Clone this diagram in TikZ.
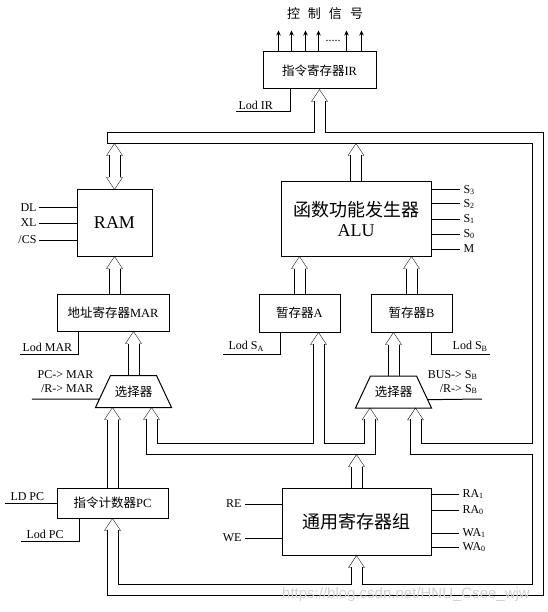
\documentclass[tikz,border=0pt]{standalone}
\usepackage{fontspec}
\setmainfont{Liberation Serif}
\setsansfont{Liberation Sans}
\newfontfamily\cjk{Noto Sans CJK SC}
\usetikzlibrary{positioning}
\usetikzlibrary{calc}
\usetikzlibrary{arrows.meta}
\pgfdeclarelayer{busbg}
\pgfsetlayers{busbg,main}

\tikzset{
	box/.style={draw, inner sep=0pt, font=\fontsize{12.5}{14}\selectfont},
	bigbox/.style={draw, inner sep=0pt, align=center, font=\fontsize{18}{20}\selectfont},
	selbox/.style={minimum width=75pt, minimum height=31pt, inner sep=0pt, font=\fontsize{12.5}{14}\cjk},
	lbl/.style={inner sep=2pt, font=\fontsize{12}{14}\selectfont},
	sig/.style={-{Stealth[length=5pt,width=4.5pt]}},
	busout/.style={line width=12pt},
	busin/.style={line width=10pt, white},
	busup/.pic={\draw (-5.5,12) -- (-8,12) -- (0,0) -- (8,12) -- (5.5,12);}
}

\begin{document}
\begin{tikzpicture}[x=1pt, y=-1pt, line width=1pt]
	\useasboundingbox (0,0) rectangle (547,612);

	\node[box, minimum width=113pt, minimum height=37pt] (ir) at (319.5,70.5) {{\cjk 指令寄存器}IR};
	\node[bigbox, minimum width=75pt, minimum height=66pt] (ram) at (114.5,223) {RAM};
	\node[bigbox, minimum width=150pt, minimum height=74pt] (alu) at (356,219) {{\cjk 函数功能发生器}\\ALU};
	\node[box, minimum width=112pt, minimum height=37pt] (mar) at (113,312.5) {{\cjk 地址寄存器}MAR};
	\node[box, minimum width=81pt, minimum height=38pt] (rega) at (299.5,313) {{\cjk 暂存器}A};
	\node[box, minimum width=81pt, minimum height=38pt] (regb) at (411.5,313) {{\cjk 暂存器}B};
	\node[selbox] (selm) at (133.5,391.5) {选择器};
	\node[selbox] (selb) at (393.5,392) {选择器};
	\node[box, minimum width=111pt, minimum height=30pt] (pc) at (112.5,503) {{\cjk 指令计数器}PC};
	\node[bigbox, minimum width=149pt, minimum height=67pt] (gpr) at (356.5,521.5) {{\cjk 通用寄存器组}};

	% the two selectors
	\foreach \sel in {selm,selb}
		\draw (\sel.south west) -- (\sel.south east) -- ([xshift=-15pt]\sel.north east) -- ([xshift=15pt]\sel.north west) -- cycle;

	% control signals out of IR
	\node[font=\fontsize{13}{15}\cjk] (ctrl) at (325,14) {控\hspace{8pt}制\hspace{8pt}信\hspace{8pt}号};
	\foreach \cx in {16,29,43,56,84,99}
		\draw[sig] ([xshift=\cx pt]ir.north west) -- ++(0,-21);
	\node[lbl] (dots) at (333,41) {.....};
	\coordinate (lodir) at (236,112);
	\draw ([xshift=28pt]ir.south west) |- (lodir);
	\node[lbl, anchor=south west] (lodirtxt) at (lodir) {Lod IR};

	% RAM inputs
	\node[lbl, anchor=east] (dl) at (39,208) {DL};
	\node[lbl, anchor=east] (xl) at (39,223) {XL};
	\node[lbl, anchor=east] (cs) at (39,240) {/CS};
	\draw (dl) -- (ram.west |- dl);
	\draw (xl) -- (ram.west |- xl);
	\draw (cs) -- (ram.west |- cs);

	% ALU function select
	\foreach \sy/\sn [count=\i] in {190/S\textsubscript{3}, 204/S\textsubscript{2}, 219/S\textsubscript{1}, 234/S\textsubscript{0}, 249/M} {
		\node[lbl, anchor=west, inner sep=3pt] (s\i) at (460,\sy) {\sn};
		\draw (alu.east |- s\i) -- (s\i);
	}

	% register file address lines
	\foreach \ay/\an [count=\i] in {494/RA\textsubscript{1}, 510/RA\textsubscript{0}, 533/WA\textsubscript{1}, 547/WA\textsubscript{0}} {
		\node[lbl, anchor=west, inner sep=3pt] (a\i) at (459,\ay) {\an};
		\draw (gpr.east |- a\i) -- (a\i);
	}
	\node[lbl, anchor=east, inner sep=3pt] (re) at (245,504) {RE};
	\node[lbl, anchor=east, inner sep=3pt] (we) at (245,538) {WE};
	\draw (re) -- (gpr.west |- re);
	\draw (we) -- (gpr.west |- we);

	% load lines
	\coordinate (lodmar) at (20,354);
	\draw ([xshift=22pt]mar.south west) |- (lodmar);
	\node[lbl, anchor=south west] (lodmartxt) at (lodmar) {Lod MAR};
	\coordinate (lodsa) at (223,354);
	\draw ([xshift=22pt]rega.south west) |- (lodsa);
	\node[lbl, anchor=south west] (lodsatxt) at ([xshift=3pt]lodsa) {Lod S\textsubscript{A}};
	\coordinate (lodsb) at (490,354);
	\draw ([xshift=-21pt]regb.south east) |- (lodsb);
	\node[lbl, anchor=south east] (lodsbtxt) at (lodsb) {Lod S\textsubscript{B}};
	\coordinate (ldpc) at (5,503);
	\draw (ldpc) -- (pc.west);
	\node[lbl, anchor=south west] (ldpctxt) at ([xshift=3pt]ldpc) {LD PC};
	\coordinate (lodpc) at (21,541);
	\draw ([xshift=23pt]pc.south west) |- (lodpc);
	\node[lbl, anchor=south west] (lodpctxt) at ([xshift=3pt]lodpc) {Lod PC};

	% selector controls
	\node[lbl, anchor=east, align=right] (selmtxt) at (96,382) {PC-> MAR\\/R-> MAR};
	\coordinate (selmin) at (32,399);
	\draw (selmin) -- ($(selm.south west)!0.26!([xshift=15pt]selm.north west)$);
	\node[lbl, anchor=east, align=right] (selbtxt) at (480,382) {BUS-> S\textsubscript{B}\\/R-> S\textsubscript{B}};
	\coordinate (selbin) at (482,399);
	\draw ($(selb.south east)!0.26!([xshift=-15pt]selb.north east)$) -- (selbin);

	\coordinate (tbus) at (0,143.5);
	\coordinate (lbus) at (0,454.5);

	\begin{pgfonlayer}{busbg}
		% buses and shafts, drawn twice: outline then core
		\foreach \pass in {busout,busin} {
			\draw[\pass] (107,138) -- (538,138) -- (538,590) -- (112.5,590) -- (112.5,530);
			\draw[\pass] (319.5,138) -- (319.5,101);
			\draw[\pass] (538,449) -- (415.5,449) -- (415.5,419);
			\draw[\pass] (356.5,590) -- (356.5,567);
			\draw[\pass] (151.5,419) -- (151.5,449) -- (370,449) -- (370,419);
			\draw[\pass] (318.5,449) -- (318.5,344);
			\foreach \tl/\tp in {ram.south |- mar.north/ram.south, rega.north/rega.north |- alu.south, regb.north/regb.north |- alu.south, selm.north/selm.north |- mar.south, selb.north/selb.north |- regb.south, pc.north/pc.north |- selm.south, alu.north/alu.north |- tbus, gpr.north/gpr.north |- lbus}
				\draw[\pass, shorten >=12pt] (\tl) -- (\tp);
			\draw[\pass, shorten <=12pt, shorten >=12pt] (ram.north) -- (ram.north |- tbus);
		}
		\draw (107,132) -- (107,144);
		\foreach \tp in {ir.south, gpr.south, pc.south, ram.south, rega.north |- alu.south, regb.north |- alu.south, selm.north |- mar.south, selb.north |- regb.south, pc.north |- selm.south, alu.north |- tbus, gpr.north |- lbus, ram.north |- tbus}
			\pic at (\tp) {busup};
		\pic at ([xshift=19pt]rega.south) {busup};
		\pic at ([xshift=18pt]selm.south) {busup};
		\pic at ([xshift=-23.5pt]selb.south) {busup};
		\pic at ([xshift=22pt]selb.south) {busup};
		\pic[rotate=180] at (ram.north) {busup};
	\end{pgfonlayer}

	\node[text=gray!35, font=\fontsize{15}{17}\sffamily] (wmark) at (406,595) {https://blog.csdn.net/HNU\_Csee\_wjw};
\end{tikzpicture}
\end{document}
